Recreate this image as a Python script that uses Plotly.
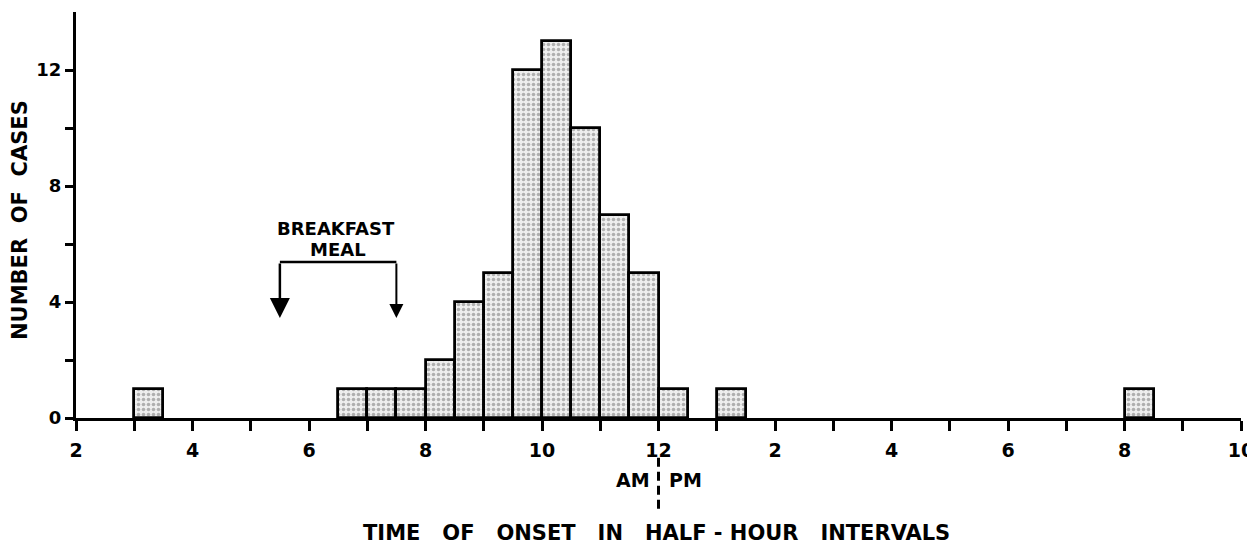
import plotly.graph_objects as go

# Data: start of each half-hour interval (hours on a 24h clock, 2 = 2 AM, 14 = 2 PM)
interval_start = [3.0, 6.5, 7.0, 7.5, 8.0, 8.5, 9.0, 9.5, 10.0, 10.5, 11.0, 11.5, 12.0, 13.0, 20.0]
cases = [1, 1, 1, 1, 2, 4, 5, 12, 13, 10, 7, 5, 1, 1, 1]

x_tick_vals = list(range(2, 23))
x_tick_text = ["2", "", "4", "", "6", "", "8", "", "10", "", "12", "", "2", "", "4", "", "6", "", "8", "", "10"]
y_tick_vals = [0, 2, 4, 6, 8, 10, 12]
y_tick_text = ["0", "", "4", "", "8", "", "12"]

breakfast_start = 5.5
breakfast_end = 7.5

FONT = "DejaVu Sans"
NB = "\u00a0"

fig = go.Figure()
fig.add_trace(go.Bar(
    x=interval_start, y=cases, width=0.5, offset=0,
    marker=dict(
        color="#eeeeee",
        line=dict(color="black", width=2.8),
        pattern=dict(shape=".", fgcolor="#707070", bgcolor="#eeeeee", size=5, solidity=0.4),
    ),
    hoverinfo="x+y",
))

bracket_y = 5.38
arrow_tip = 3.45

# bracket
fig.add_shape(type="line", xref="x", yref="y", x0=breakfast_start, x1=breakfast_end,
              y0=bracket_y, y1=bracket_y, line=dict(color="black", width=2.5))
fig.add_annotation(x=breakfast_start, y=arrow_tip, ax=breakfast_start, ay=bracket_y,
                   xref="x", yref="y", axref="x", ayref="y", showarrow=True, text="",
                   arrowhead=2, arrowsize=1.6, arrowwidth=2.5, arrowcolor="black")
fig.add_annotation(x=breakfast_end, y=arrow_tip, ax=breakfast_end, ay=bracket_y,
                   xref="x", yref="y", axref="x", ayref="y", showarrow=True, text="",
                   arrowhead=2, arrowsize=1.4, arrowwidth=2, arrowcolor="black")
fig.add_annotation(x=(breakfast_start + breakfast_end) / 2, y=6.55, xref="x", yref="y",
                   text="BREAKFAST", showarrow=False, xshift=-2,
                   font=dict(family=FONT, size=18, color="black", weight="bold"))
fig.add_annotation(x=(breakfast_start + breakfast_end) / 2, y=5.8, xref="x", yref="y",
                   text="MEAL", showarrow=False,
                   font=dict(family=FONT, size=18, color="black", weight="bold"))

# AM | PM marker
fig.add_shape(type="line", xref="x", yref="paper", x0=12, x1=12, y0=-0.098, y1=-0.227,
              line=dict(color="black", width=3, dash="9px,5px"))
fig.add_annotation(x=12, y=-0.153, xref="x", yref="paper", text="AM", showarrow=False,
                   xanchor="right", yanchor="middle", xshift=-7,
                   font=dict(family=FONT, size=19, color="black", weight="bold"))
fig.add_annotation(x=12, y=-0.153, xref="x", yref="paper", text="PM", showarrow=False,
                   xanchor="left", yanchor="middle", xshift=8,
                   font=dict(family=FONT, size=19, color="black", weight="bold"))

# axis titles
sp = NB * 3
fig.add_annotation(x=0.498, y=-0.283, xref="paper", yref="paper",
                   xanchor="center", yanchor="middle",
                   text="TIME" + sp + "OF" + sp + "ONSET" + sp + "IN" + sp + "HALF" + NB + "-" + NB + "HOUR" + sp + "INTERVALS",
                   showarrow=False,
                   font=dict(family=FONT, size=21, color="black", weight="bold"))
fig.add_annotation(x=-0.048, y=0.488, xref="paper", yref="paper",
                   xanchor="center", yanchor="middle",
                   text="NUMBER" + NB * 2 + "OF" + NB * 2 + "CASES", textangle=-90,
                   showarrow=False,
                   font=dict(family=FONT, size=21, color="black", weight="bold"))

fig.update_xaxes(range=[2, 22], tickvals=x_tick_vals, ticktext=x_tick_text,
                 ticks="outside", ticklen=10, tickwidth=2.5, tickcolor="black",
                 showline=True, linecolor="black", linewidth=3, showgrid=False, zeroline=False,
                 ticklabeloverflow="allow", ticklabelstandoff=3,
                 tickfont=dict(family=FONT, size=19, color="black", weight="bold"))
fig.update_yaxes(range=[0, 14], tickvals=y_tick_vals, ticktext=y_tick_text,
                 ticks="outside", ticklen=8, tickwidth=2.5, tickcolor="black",
                 showline=True, linecolor="black", linewidth=3, showgrid=False, zeroline=False,
                 tickfont=dict(family=FONT, size=18, color="black", weight="bold"))

# page body has an 8px default margin; compensate so the plot lands where the reference has it
fig.update_layout(
    width=1247, height=540,
    margin=dict(l=68, r=1, t=4, b=130),
    paper_bgcolor="white", plot_bgcolor="white",
    showlegend=False, bargap=0,
)

fig.write_html("out.html")
